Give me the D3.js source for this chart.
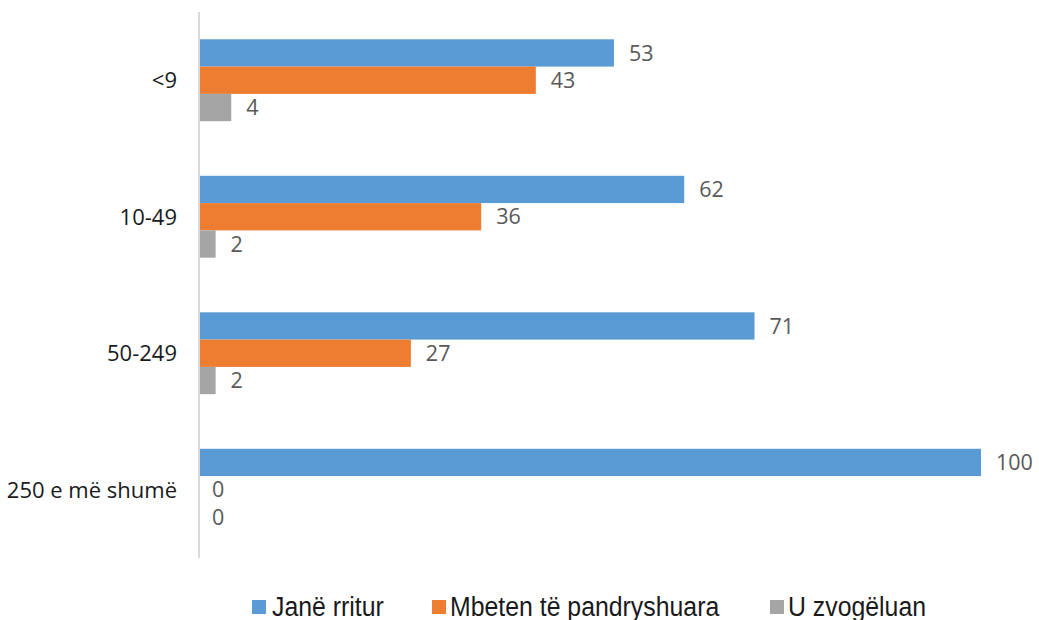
<!DOCTYPE html>
<html>
<head>
<meta charset="utf-8">
<script src="https://cdn.jsdelivr.net/npm/d3@7"></script>
<style>
  body { margin: 0; background: #fff; }
  svg { display: block; }
</style>
</head>
<body>
<svg id="chart" width="1039" height="620"></svg>
<script>
// categorias (de arriba hacia abajo)
const categories = ["<9", "10-49", "50-249", "250 e më shumë"];
const seriesNames = ["Janë rritur", "Mbeten të pandryshuara", "U zvogëluan"];
const rritur = [53, 62, 71, 100];
const pandryshuara = [43, 36, 27, 0];
const zvogeluan = [4, 2, 2, 0];
const colors = ["#5b9bd5", "#ed7d31", "#a5a5a5"];

const seriesValues = [rritur, pandryshuara, zvogeluan];

const svg = d3.select("#chart");
const margin = { top: 12, right: 58, bottom: 62, left: 200 };
const width = 1039, height = 620;

const x = d3.scaleLinear().domain([0, 100]).range([margin.left, 981]);
const y = d3.scaleBand().domain(categories)
    .range([margin.top, height - margin.bottom])
    .paddingInner(0.4).paddingOuter(0.2);
const ySub = d3.scaleBand().domain(seriesNames).range([0, y.bandwidth()]);

// barras + etiquetas de valor
categories.forEach((cat, i) => {
    const g = svg.append("g").attr("transform", `translate(0,${y(cat)})`);
    seriesNames.forEach((s, j) => {
        const v = seriesValues[j][i];
        g.append("rect")
            .attr("x", x(0))
            .attr("y", ySub(s))
            .attr("width", x(v) - x(0))
            .attr("height", ySub.bandwidth())
            .attr("fill", colors[j]);
        g.append("text")
            .attr("x", x(v) + (v > 0 ? 15 : 12))
            .attr("y", ySub(s) + ySub.bandwidth() / 2)
            .attr("dy", "0.36em")
            .attr("font-family", "'Open Sans', 'Noto Sans', sans-serif")
            .attr("font-size", 21.5)
            .attr("fill", "#595959")
            .text(v);
    });
});

// eje vertical
svg.append("line")
    .attr("x1", 199).attr("x2", 199)
    .attr("y1", margin.top).attr("y2", height - margin.bottom)
    .attr("stroke", "#d9d9d9").attr("stroke-width", 2);

// etiquetas de categoria
svg.selectAll(".cat")
    .data(categories)
    .join("text")
    .attr("class", "cat")
    .attr("x", 177)
    .attr("y", d => y(d) + y.bandwidth() / 2)
    .attr("dy", "0.36em")
    .attr("text-anchor", "end")
    .attr("font-family", "'Open Sans', 'Noto Sans', sans-serif")
    .attr("font-size", 22)
    .attr("fill", "#1a1a1a")
    .text(d => d);

// leyenda (fuente estrecha)
const legendX = [252, 432, 770];
const legend = svg.append("g");
seriesNames.forEach((s, j) => {
    legend.append("rect")
        .attr("x", legendX[j]).attr("y", 600)
        .attr("width", 14).attr("height", 14)
        .attr("fill", colors[j]);
    legend.append("text")
        .attr("transform", `translate(${legendX[j] + (j === 0 ? 20 : 18)},616) scale(0.92,1)`)
        .attr("font-family", "'Liberation Sans', Arial, sans-serif")
        .attr("font-size", 27)
        .attr("fill", "#1a1a1a")
        .text(s);
});
</script>
</body>
</html>
